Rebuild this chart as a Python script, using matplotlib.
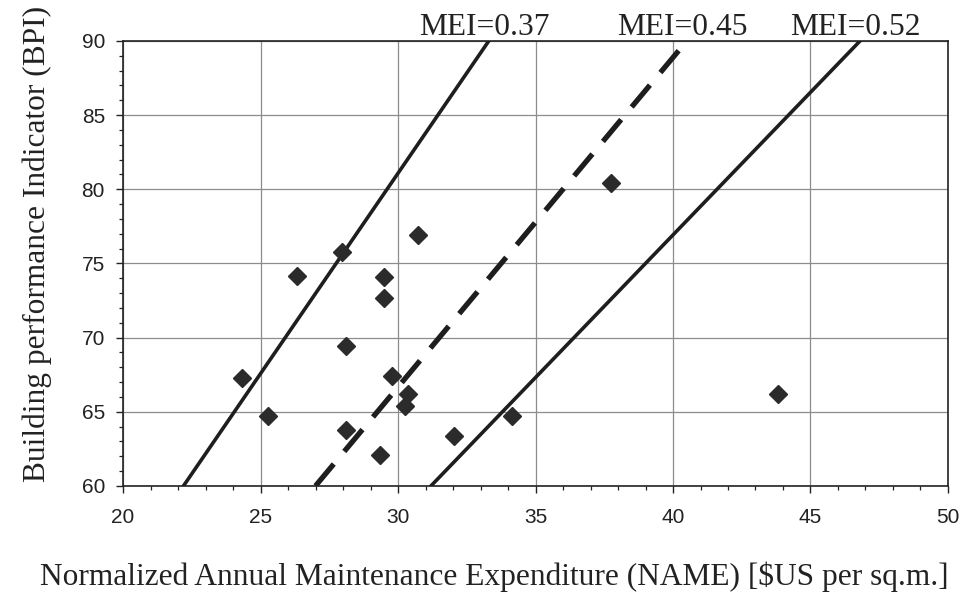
import matplotlib
matplotlib.use("Agg")
import matplotlib.pyplot as plt
from matplotlib.ticker import MultipleLocator
import numpy as np

# Data
name_values = [24.33, 25.28, 26.31, 27.96, 28.11, 28.11, 29.36, 29.50, 29.50,
               29.78, 30.24, 30.38, 30.72, 32.05, 34.16, 37.75, 43.82]
bpi_values = [67.28, 64.73, 74.12, 75.76, 69.41, 63.78, 62.05, 74.10, 72.64,
              67.43, 65.36, 66.20, 76.91, 63.38, 64.73, 80.43, 66.20]
mei_values = [0.37, 0.45, 0.52]
mei_labels = ["MEI=0.37", "MEI=0.45", "MEI=0.52"]
mei_styles = ["solid", "dashed", "solid"]

x_ticks = [20, 25, 30, 35, 40, 45, 50]
y_ticks = [60, 65, 70, 75, 80, 85, 90]

fig = plt.figure(figsize=(9.64, 5.94), dpi=100)
ax = fig.add_axes([0.1276, 0.182, 0.8558, 0.749])

ax.set_xlim(20, 50)
ax.set_ylim(60, 90)
ax.set_xticks(x_ticks)
ax.set_yticks(y_ticks)
ax.xaxis.set_minor_locator(MultipleLocator(1))
ax.yaxis.set_minor_locator(MultipleLocator(1))
ax.grid(True, which="major", color="#8c8c8c", linewidth=0.9)
ax.set_axisbelow(True)
for s in ax.spines.values():
    s.set_linewidth(1.2)
    s.set_color("#222222")
ax.tick_params(which="major", direction="out", length=5, width=1.0,
               labelsize=15, colors="#222222")
ax.tick_params(axis="x", which="major", pad=11)
ax.tick_params(axis="y", which="major", pad=8)
ax.tick_params(which="minor", direction="out", length=3, width=0.9, colors="#222222")
for lab in ax.get_xticklabels() + ax.get_yticklabels():
    lab.set_fontfamily("Liberation Sans")

# MEI lines: NAME = MEI * BPI
bpi_line = np.array([60.0, 90.0])
for mei, lab, st in zip(mei_values, mei_labels, mei_styles):
    if st == "dashed":
        ax.plot(mei * bpi_line, bpi_line, color="#1e1e1e", linewidth=3.8,
                dashes=(5.4, 3.1), solid_capstyle="butt", dash_capstyle="butt",
                clip_on=True, zorder=3)
    else:
        ax.plot(mei * bpi_line, bpi_line, color="#1e1e1e", linewidth=2.6,
                clip_on=True, zorder=3)
    ax.annotate(lab, xy=(mei * 90 - 0.15, 90), xytext=(0, 4),
                textcoords="offset points", ha="center", va="baseline",
                fontsize=22.7, family="Liberation Serif", color="#222222",
                annotation_clip=False)

ax.plot(name_values, bpi_values, linestyle="none", marker="D", markersize=9,
        color="#2b2b2b", zorder=4)

ax.set_xlabel("Normalized Annual Maintenance Expenditure (NAME) [$US per sq.m.]",
              family="Liberation Serif", fontsize=22.6, color="#222222")
ax.set_ylabel("Building performance Indicator (BPI)",
              family="Liberation Serif", fontsize=22.6, color="#222222")
ax.xaxis.label.set_va("center")
ax.yaxis.label.set_va("center")
ax.xaxis.set_label_coords(0.450, -0.2045)
ax.yaxis.set_label_coords(-0.1045, 0.544)

fig.savefig("out.png", dpi=100)
